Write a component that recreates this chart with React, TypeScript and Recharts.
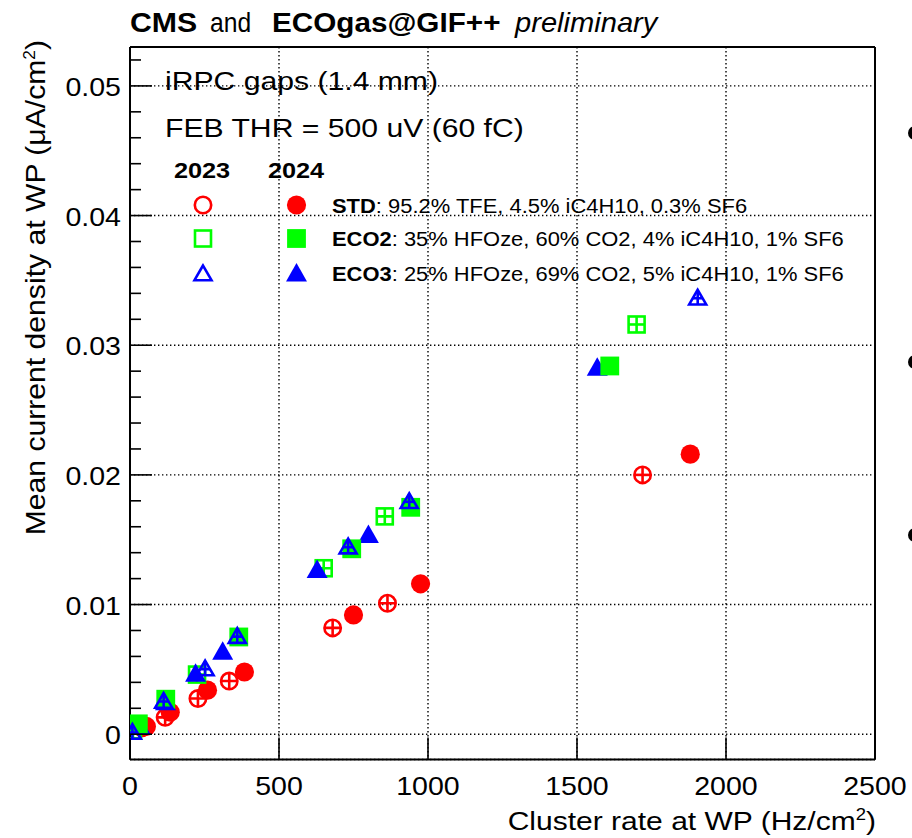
import React from 'react';
import { ScatterChart, Scatter, XAxis, YAxis, CartesianGrid, ReferenceLine } from 'recharts';

const FONT = '"Liberation Sans", Arial, Helvetica, sans-serif';

// Cluster rate at working point (Hz/cm2) and mean current density (uA/cm2)
const std2023Rate = [40, 118, 228, 333, 680, 864, 1720];
const std2023Current = [0.0005, 0.0013, 0.00275, 0.0041, 0.0082, 0.0101, 0.02];

const std2024Rate = [55, 135, 260, 384, 750, 975, 1880];
const std2024Current = [0.0006, 0.0017, 0.0034, 0.0048, 0.0092, 0.0116, 0.0216];

const eco2_2023Rate = [10, 225, 650, 855, 1700];
const eco2_2023Current = [0.0003, 0.0046, 0.0128, 0.0168, 0.0316];

const eco2_2024Rate = [28, 120, 365, 744, 942, 1610];
const eco2_2024Current = [0.0008, 0.0027, 0.0075, 0.0143, 0.0175, 0.0284];

const eco3_2023Rate = [8, 113, 252, 360, 732, 937, 1905];
const eco3_2023Current = [0.0002, 0.0026, 0.0051, 0.0076, 0.0145, 0.018, 0.0337];

const eco3_2024Rate = [35, 119, 220, 311, 628, 800, 1568];
const eco3_2024Current = [0.0006, 0.0025, 0.0047, 0.0064, 0.0127, 0.0154, 0.0283];

const xTicks = [0, 500, 1000, 1500, 2000, 2500];
const xTickLabels = ['0', '500', '1000', '1500', '2000', '2500'];
const yTicks = [0, 0.01, 0.02, 0.03, 0.04, 0.05];
const yTickLabels = ['0', '0.01', '0.02', '0.03', '0.04', '0.05'];
const yMinorTicks = [
  -0.002, 0.002, 0.004, 0.006, 0.008, 0.012, 0.014, 0.016, 0.018, 0.022, 0.024, 0.026, 0.028,
  0.032, 0.034, 0.036, 0.038, 0.042, 0.044, 0.046, 0.048, 0.052,
];

const X_DOMAIN: [number, number] = [0, 2500];
const Y_DOMAIN: [number, number] = [-0.00195, 0.053];

const RED = '#ff0000';
const GREEN = '#00ff00';
const BLUE = '#0000ff';

const zip = (xs: number[], ys: number[]) => xs.map((x, i) => ({ x, y: ys[i] }));

type Kind = 'circle' | 'square' | 'triangle';

// Text with a horizontal stretch along its writing direction
function SText(props: {
  x: number; y: number; size: number; sx?: number; anchor?: 'start' | 'middle' | 'end';
  weight?: string; style?: string; rotate?: boolean; children: React.ReactNode;
}) {
  const { x, y, size, sx = 1.1, anchor = 'start', weight = 'normal', style = 'normal', rotate, children } = props;
  const tf = rotate
    ? `translate(${x},${y}) rotate(-90) scale(${sx},1)`
    : `translate(${x},${y}) scale(${sx},1)`;
  return (
    <g transform={tf}>
      <text x={0} y={0} fontFamily={FONT} fontSize={size} fontWeight={weight} fontStyle={style}
        textAnchor={anchor} fill="#000">
        {children}
      </text>
    </g>
  );
}

function Marker(props: { cx: number; cy: number; kind: Kind; color: string; open: boolean; cross?: boolean }) {
  const { cx, cy, kind, color, open, cross } = props;
  const sw = 2.6;
  if (kind === 'circle') {
    if (!open) return <circle cx={cx} cy={cy} r={9.6} fill={color} />;
    return (
      <g>
        <circle cx={cx} cy={cy} r={8.2} fill="none" stroke={color} strokeWidth={sw} />
        {cross && (
          <g stroke={color} strokeWidth={2.6}>
            <line x1={cx - 8} x2={cx + 8} y1={cy} y2={cy} />
            <line x1={cx} x2={cx} y1={cy - 8} y2={cy + 8} />
          </g>
        )}
      </g>
    );
  }
  if (kind === 'square') {
    if (!open) return <rect x={cx - 9.4} y={cy - 9.4} width={18.8} height={18.8} fill={color} />;
    return (
      <g>
        <rect x={cx - 8} y={cy - 8} width={16} height={16} fill="none" stroke={color} strokeWidth={sw} />
        {cross && (
          <g stroke={color} strokeWidth={2.6}>
            <line x1={cx - 8} x2={cx + 8} y1={cy} y2={cy} />
            <line x1={cx} x2={cx} y1={cy - 8} y2={cy + 8} />
          </g>
        )}
      </g>
    );
  }
  const top = cy - 10;
  const base = cy + 8.5;
  const half = 10.5;
  if (!open) return <polygon points={`${cx},${top} ${cx - half},${base} ${cx + half},${base}`} fill={color} />;
  return (
    <g>
      <polygon points={`${cx},${top + 2.5} ${cx - half + 2},${base - 1.3} ${cx + half - 2},${base - 1.3}`}
        fill="none" stroke={color} strokeWidth={sw} strokeLinejoin="miter" />
      {cross && (
        <g stroke={color} strokeWidth={2.6}>
          <line x1={cx} x2={cx} y1={top + 3} y2={base - 1} />
          <line x1={cx - 5} x2={cx + 5} y1={cy + 1} y2={cy + 1} />
        </g>
      )}
    </g>
  );
}

const shapeOf = (kind: Kind, color: string, open: boolean) => (p: any) =>
  <Marker cx={p.cx} cy={p.cy} kind={kind} color={color} open={open} cross />;

function XTick(props: any) {
  const { x, y, payload } = props;
  const i = xTicks.indexOf(payload.value);
  return (
    <g>
      <line x1={x} x2={x} y1={y} y2={y - 22} stroke="#000" strokeWidth={1.6} />
      <SText x={x} y={y + 35} size={25.5} sx={1.12} anchor="middle">{xTickLabels[i]}</SText>
    </g>
  );
}

function YTick(props: any) {
  const { x, y, payload } = props;
  const i = yTicks.indexOf(payload.value);
  return (
    <g>
      <line x1={x} x2={x + 22} y1={y} y2={y} stroke="#000" strokeWidth={1.6} />
      <SText x={x - 9} y={y + 10} size={25.5} sx={1.12} anchor="end">{yTickLabels[i]}</SText>
    </g>
  );
}

// short inward tick drawn at the left edge of the plot for a minor division
const minorTickShape = (p: any) => (
  <line x1={p.x1} x2={p.x1 + 11} y1={p.y1} y2={p.y1} stroke="#000" strokeWidth={1.6} />
);

const legendRows = [
  { kind: 'circle' as Kind, color: RED, name: 'STD', text: ': 95.2% TFE, 4.5% iC4H10, 0.3% SF6', y: 205 },
  { kind: 'square' as Kind, color: GREEN, name: 'ECO2', text: ': 35% HFOze, 60% CO2, 4% iC4H10, 1% SF6', y: 238.5 },
  { kind: 'triangle' as Kind, color: BLUE, name: 'ECO3', text: ': 25% HFOze, 69% CO2, 5% iC4H10, 1% SF6', y: 273 },
];

export default function App() {
  return (
    <div style={{ position: 'absolute', left: 0, top: 0, width: 912, height: 838, background: '#fff', overflow: 'hidden' }}>
      <ScatterChart width={912} height={838} margin={{ top: 47, right: 37, bottom: 48.5, left: 70 }}>
        <CartesianGrid stroke="#000" strokeWidth={1.4} strokeDasharray="1.4 2.6" />
        <XAxis type="number" dataKey="x" domain={X_DOMAIN} ticks={xTicks} allowDataOverflow
          height={30} tickSize={0} tickMargin={0} tickLine={false} tick={<XTick />} interval={0}
          axisLine={{ stroke: '#000', strokeWidth: 2 }} />
        <YAxis type="number" dataKey="y" domain={Y_DOMAIN} ticks={yTicks} allowDataOverflow
          width={60} tickSize={0} tickMargin={0} tickLine={false} tick={<YTick />} interval={0}
          axisLine={{ stroke: '#000', strokeWidth: 2 }} />
        {yMinorTicks.map((v) => (
          <ReferenceLine key={v} y={v} stroke="none" shape={minorTickShape} />
        ))}
        <ReferenceLine y={Y_DOMAIN[1]} stroke="#000" strokeWidth={2} />
        <ReferenceLine x={X_DOMAIN[1]} stroke="#000" strokeWidth={2} />
        <Scatter data={zip(std2023Rate, std2023Current)} isAnimationActive={false} shape={shapeOf('circle', RED, true)} />
        <Scatter data={zip(std2024Rate, std2024Current)} isAnimationActive={false} shape={shapeOf('circle', RED, false)} />
        <Scatter data={zip(eco2_2023Rate, eco2_2023Current)} isAnimationActive={false} shape={shapeOf('square', GREEN, true)} />
        <Scatter data={zip(eco3_2024Rate, eco3_2024Current)} isAnimationActive={false} shape={shapeOf('triangle', BLUE, false)} />
        <Scatter data={zip(eco2_2024Rate, eco2_2024Current)} isAnimationActive={false} shape={shapeOf('square', GREEN, false)} />
        <Scatter data={zip(eco3_2023Rate, eco3_2023Current)} isAnimationActive={false} shape={shapeOf('triangle', BLUE, true)} />
      </ScatterChart>

      <svg width={912} height={838} style={{ position: 'absolute', left: 0, top: 0, pointerEvents: 'none' }}>
        {/* header */}
        <SText x={130} y={32} size={28} sx={1.08} weight="bold">CMS</SText>
        <SText x={210} y={32} size={28} sx={0.88}>and</SText>
        <SText x={272} y={32} size={28} sx={1.06} weight="bold">ECOgas@GIF++</SText>
        <SText x={515} y={32} size={28} sx={1.04} style="italic">preliminary</SText>

        {/* annotations */}
        <SText x={165} y={90} size={26} sx={1.16}>iRPC gaps (1.4 mm)</SText>
        <SText x={165} y={137} size={26} sx={1.16}>FEB THR = 500 uV (60 fC)</SText>

        {/* legend */}
        <SText x={202} y={178} size={22} sx={1.15} anchor="middle" weight="bold">2023</SText>
        <SText x={296} y={178} size={22} sx={1.15} anchor="middle" weight="bold">2024</SText>
        {legendRows.map((r) => (
          <g key={r.name}>
            <Marker cx={203} cy={r.y} kind={r.kind} color={r.color} open />
            <Marker cx={296.5} cy={r.y} kind={r.kind} color={r.color} open={false} />
            <SText x={332} y={r.y + 7.5} size={20.5} sx={1.07}>
              <tspan fontWeight="bold">{r.name}</tspan>
              <tspan>{r.text}</tspan>
            </SText>
          </g>
        ))}

        {/* axis titles */}
        <SText x={876} y={830} size={26} sx={1.155} anchor="end">
          Cluster rate at WP (Hz/cm<tspan dy={-10} fontSize={16}>2</tspan><tspan dy={10}>)</tspan>
        </SText>
        <SText x={45} y={40} size={28} sx={1.077} rotate anchor="end">
          Mean current density at WP (μA/cm<tspan dy={-10} fontSize={16}>2</tspan><tspan dy={10}>)</tspan>
        </SText>

        {/* bullets of the neighbouring slide text */}
        <circle cx={915} cy={133} r={7} fill="#000" />
        <circle cx={915} cy={362} r={7} fill="#000" />
        <circle cx={915} cy={535} r={7} fill="#000" />
      </svg>
    </div>
  );
}
